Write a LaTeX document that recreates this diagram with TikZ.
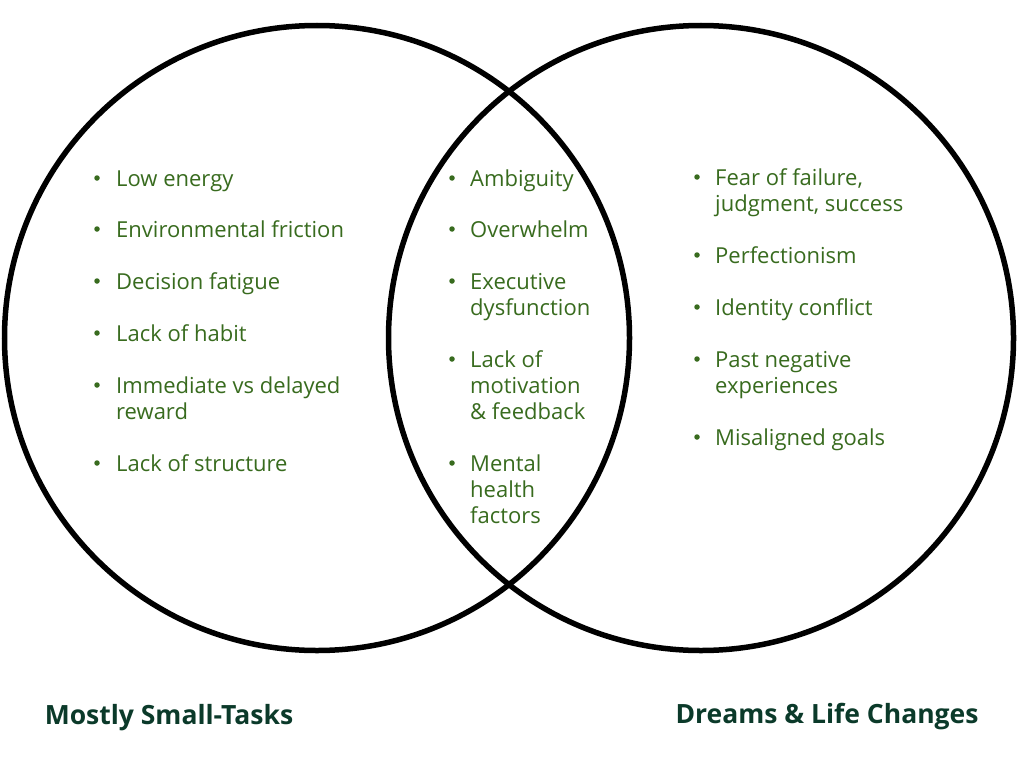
\documentclass[tikz,border=0pt]{standalone}
\usepackage{fontspec}
\setmainfont{Open Sans}
\definecolor{itemgreen}{HTML}{386B1E}
\definecolor{titlegreen}{HTML}{0B3A2A}
\newcommand{\itemtext}[1]{\parbox[t]{300pt}{\raggedright #1}}
\tikzset{
  venn/.style={draw=black, line width=5.5pt, circle, minimum size=625pt, inner sep=0pt},
  item/.style={anchor=base west, inner sep=0pt, text=itemgreen,
    font=\fontsize{22}{26}\selectfont},
  dot/.style={circle, fill=itemgreen, inner sep=0pt, minimum size=5.5pt},
  title/.style={anchor=center, inner sep=0pt, text=titlegreen,
    font=\fontsize{26.5}{30}\selectfont\bfseries}
}
\begin{document}
\begin{tikzpicture}[x=1pt,y=-1pt]
\useasboundingbox[fill=white] (0,0) rectangle (1024,768);
\node[venn] (L) at (317,338) {};
\node[venn] (R) at (701,338) {};
% left
\foreach \y/\t [count=\i] in {178/Low energy, 229/Environmental friction, 281/Decision fatigue, 333/Lack of habit, 385/{Immediate vs delayed\\reward}, 463/Lack of structure}{
  \node[dot] (ld\i) at (97,\y) {};
  \node[item] (l\i) at (116,\y+8) {\itemtext{\t}};
}
% middle
\foreach \y/\t [count=\i] in {178/Ambiguity, 229/Overwhelm, 281/{Executive\\dysfunction}, 359/{Lack of\\motivation\\\& feedback}, 463/{Mental\\health\\factors}}{
  \node[dot] (md\i) at (452,\y) {};
  \node[item] (m\i) at (470,\y+8) {\itemtext{\t}};
}
% right
\foreach \y/\t [count=\i] in {177/{Fear of failure,\\judgment, success}, 255/Perfectionism, 307/Identity conflict, 359/{Past negative\\experiences}, 437/Misaligned goals}{
  \node[dot] (rd\i) at (697,\y) {};
  \node[item] (r\i) at (715,\y+8) {\itemtext{\t}};
}
\node[title] (tl) at (169,718) {Mostly Small-Tasks};
\node[title] (tr) at (827,717) {Dreams \& Life Changes};
\end{tikzpicture}
\end{document}
